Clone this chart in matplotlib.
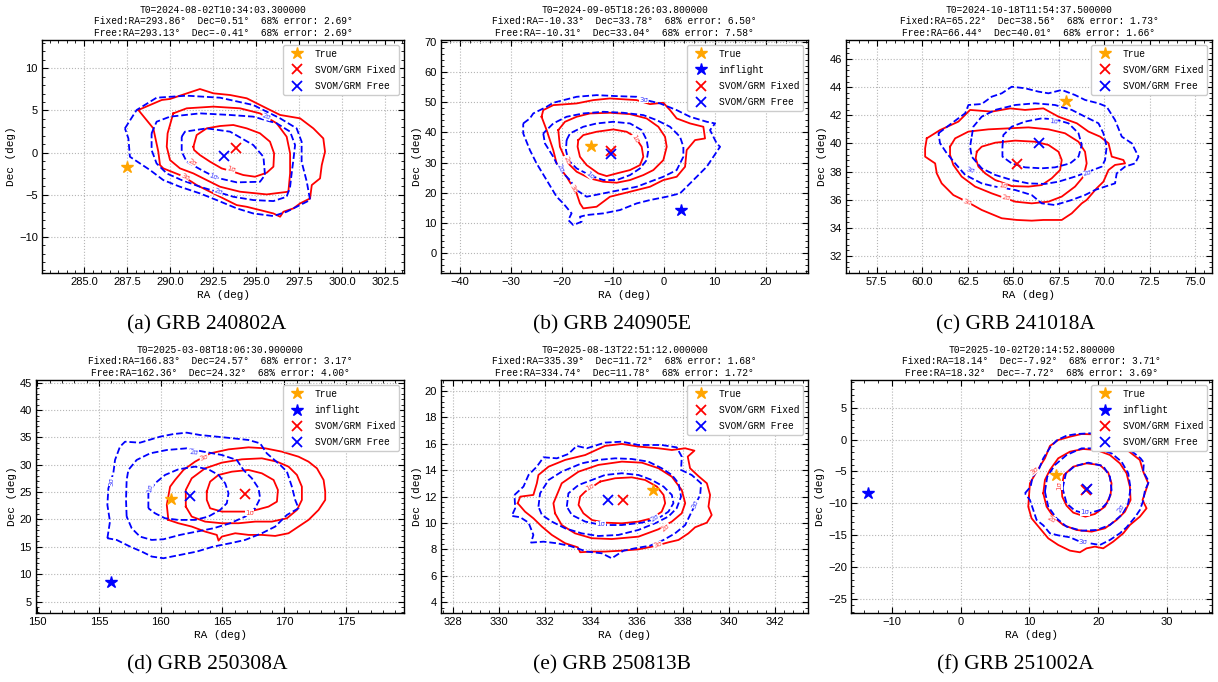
import matplotlib
matplotlib.use('Agg')
import matplotlib.pyplot as plt
from matplotlib.ticker import MultipleLocator, AutoMinorLocator

# ---------------- data ----------------
NAMES = ['(a) GRB 240802A', '(b) GRB 240905E', '(c) GRB 241018A',
         '(d) GRB 250308A', '(e) GRB 250813B', '(f) GRB 251002A']
T0 = ['2024-08-02T10:34:03.300000', '2024-09-05T18:26:03.800000',
      '2024-10-18T11:54:37.500000', '2025-03-08T18:06:30.900000',
      '2025-08-13T22:51:12.000000', '2025-10-02T20:14:52.800000']
FIX_RA = [293.86, -10.33, 65.22, 166.83, 335.39, 18.14]
FIX_DEC = [0.51, 33.78, 38.56, 24.57, 11.72, -7.92]
FIX_ERR = [2.69, 6.50, 1.73, 3.17, 1.68, 3.71]
FREE_RA = [293.13, -10.31, 66.44, 162.36, 334.74, 18.32]
FREE_DEC = [-0.41, 33.04, 40.01, 24.32, 11.78, -7.72]
FREE_ERR = [2.69, 7.58, 1.66, 4.00, 1.72, 3.69]
TRUE_RA = [287.5, -14.3, 67.9, 160.8, 336.7, 13.9]
TRUE_DEC = [-1.7, 35.5, 43.0, 23.8, 12.5, -5.5]
INFLIGHT_RA = [None, 3.3, None, 156.0, None, -13.5]
INFLIGHT_DEC = [None, 14.2, None, 8.6, None, -8.4]

# (a) GRB 240802A contours
A_FIX1_RA = [291.36, 291.55, 292.13, 292.91, 293.68, 294.46, 295.23, 295.81, 296.05, 296.01, 295.62, 294.94, 294.26, 293.68, 293.00, 292.33, 291.74, 291.40]
A_FIX1_DEC = [0.69, 2.08, 2.87, 3.15, 3.27, 2.87, 2.28, 1.29, -0.10, -1.68, -2.40, -2.87, -2.67, -2.28, -1.88, -1.09, -0.30, 0.30]
A_FIX2_RA = [290.19, 290.97, 292.52, 294.07, 295.23, 296.20, 296.78, 296.98, 296.98, 296.88, 295.62, 294.07, 292.91, 292.13, 291.36, 290.58, 290.00, 289.81, 289.86]
A_FIX2_DEC = [4.65, 5.25, 5.45, 5.25, 4.65, 3.47, 1.88, -0.10, -2.48, -4.65, -4.97, -4.65, -4.06, -3.27, -2.48, -1.88, -0.89, 0.69, 2.28]
A_FIX3_RA = [288.16, 289.52, 290.00, 291.74, 292.52, 293.49, 294.46, 295.62, 296.40, 297.56, 298.33, 298.91, 299.01, 298.82, 298.72, 298.24, 298.14, 297.56, 297.17, 296.59, 296.40, 296.01, 295.23, 294.46, 293.88, 293.29, 292.52, 291.55, 291.26, 290.58, 289.61, 289.42, 289.32, 289.03]
A_FIX3_DEC = [5.05, 6.24, 6.36, 7.54, 7.03, 6.83, 6.44, 5.25, 4.46, 4.06, 2.87, 1.68, 0.10, -1.49, -3.07, -3.86, -5.45, -6.04, -6.63, -7.03, -7.62, -7.23, -6.83, -6.44, -6.24, -5.64, -4.85, -3.86, -3.47, -2.67, -1.88, -1.49, 0.10, 2.87]
A_FREE1_RA = [290.68, 290.87, 292.13, 293.49, 294.84, 295.43, 295.52, 295.23, 293.88, 292.71, 291.94, 290.97, 290.68]
A_FREE1_DEC = [1.88, 2.48, 2.87, 2.48, 0.89, -0.50, -2.67, -3.47, -3.54, -2.99, -2.20, -1.09, 0.10]
A_FREE2_RA = [288.93, 289.22, 290.00, 291.74, 293.49, 294.84, 296.20, 296.98, 297.27, 297.17, 297.07, 296.98, 296.78, 296.01, 294.84, 293.68, 292.71, 291.74, 290.68, 289.81, 289.22, 288.93]
A_FREE2_DEC = [2.28, 3.66, 4.26, 4.65, 4.46, 4.26, 3.47, 2.48, 0.89, -0.89, -2.48, -4.06, -5.25, -5.76, -5.64, -5.25, -4.65, -4.06, -3.27, -2.48, -1.29, 0.30]
A_FREE3_RA = [287.38, 288.06, 289.22, 290.97, 292.91, 294.84, 296.40, 297.36, 297.65, 297.65, 297.95, 298.14, 296.78, 296.01, 294.84, 293.88, 292.71, 291.74, 290.58, 289.61, 288.84, 287.67, 287.58]
A_FREE3_DEC = [2.87, 5.05, 6.51, 6.75, 6.51, 5.64, 4.06, 2.87, 1.29, -1.09, -3.47, -5.64, -7.03, -7.54, -7.23, -6.63, -5.64, -4.85, -4.06, -3.27, -2.08, -0.50, 1.68]
A_LABELS = [(293.55, -2.0, '1σ', 'red', -15), (291.32, -1.17, '2σ', 'red', -30),
            (290.87, -2.87, '3σ', 'red', -25), (292.52, -2.87, '1σ', 'blue', -20),
            (292.81, -4.65, '2σ', 'blue', -20), (295.62, 4.26, '2σ', 'blue', -20)]

# (b) GRB 240905E contours
B_FIX1_RA = [-16.77, -15.79, -13.17, -9.90, -7.28, -5.64, -4.33, -4.01, -4.66, -6.62, -9.24, -11.20, -12.84, -15.13, -16.44, -16.90]
B_FIX1_DEC = [37.48, 39.13, 40.24, 41.01, 40.24, 38.58, 35.27, 31.97, 29.21, 27.56, 26.45, 25.57, 26.45, 29.21, 31.97, 35.27]
B_FIX2_RA = [-20.69, -19.38, -17.09, -14.48, -10.55, -6.62, -3.35, -1.06, 0.25, 0.58, -0.08, -2.04, -4.01, -6.62, -9.24, -11.86, -14.48, -17.09, -19.06, -20.37]
B_FIX2_DEC = [40.79, 43.54, 45.20, 46.30, 46.52, 46.08, 44.64, 41.89, 38.58, 35.27, 30.86, 27.56, 25.90, 24.25, 23.37, 23.70, 24.80, 27.01, 30.31, 35.27]
B_FIX3_RA = [-23.97, -23.64, -21.68, -17.09, -13.82, -10.55, -5.31, -2.70, -0.08, 1.23, 2.54, 5.16, 7.77, 8.10, 6.14, 4.50, 4.18, 2.54, -0.08, -2.70, -5.31, -7.93, -10.55, -13.17, -15.79, -16.44, -17.09, -19.06, -21.02, -21.68, -22.98]
B_FIX3_DEC = [45.20, 47.40, 49.05, 49.61, 50.71, 51.26, 50.71, 49.38, 49.83, 47.40, 44.64, 42.99, 41.89, 38.03, 37.48, 34.17, 28.66, 25.35, 24.25, 22.04, 20.94, 19.84, 18.74, 15.43, 14.88, 16.53, 19.84, 25.35, 29.76, 34.17, 40.79]
B_FREE1_RA = [-19.06, -18.40, -15.79, -13.17, -9.90, -6.62, -4.33, -3.35, -3.02, -3.35, -4.66, -6.62, -9.24, -11.86, -14.15, -17.09, -18.73, -19.19]
B_FREE1_DEC = [37.48, 39.68, 41.89, 42.99, 43.54, 42.99, 40.79, 37.48, 34.17, 30.86, 28.11, 25.90, 24.25, 24.25, 25.57, 28.11, 30.86, 34.17]
B_FREE2_RA = [-23.64, -23.31, -21.68, -20.37, -18.40, -17.09, -15.13, -11.86, -8.59, -5.31, -2.70, -0.08, 2.54, 3.85, 3.85, 3.19, 1.23, -1.39, -4.01, -7.93, -11.86, -15.79, -19.06, -21.68]
B_FREE2_DEC = [39.68, 36.38, 31.97, 27.56, 24.25, 20.94, 18.74, 19.84, 20.94, 22.04, 23.70, 25.35, 27.56, 31.97, 35.27, 38.58, 41.89, 44.09, 45.75, 46.52, 46.85, 46.30, 45.20, 42.99]
B_FREE3_RA = [-27.57, -26.26, -25.60, -22.98, -21.68, -17.09, -13.17, -9.24, -5.31, -4.01, -0.73, 2.54, 5.16, 8.43, 10.07, 9.08, 10.39, 11.05, 9.74, 8.43, 6.47, 4.50, 3.19, 0.58, -2.70, -5.31, -8.59, -11.86, -15.13, -16.44, -16.11, -17.75, -18.73, -18.08, -19.71, -21.02, -22.98, -24.95, -26.26, -27.57]
B_FREE3_DEC = [42.99, 44.64, 46.30, 48.50, 49.83, 51.81, 52.36, 52.03, 51.81, 50.93, 49.61, 47.40, 45.20, 43.54, 42.99, 40.79, 36.38, 35.27, 31.97, 28.66, 25.35, 22.04, 19.84, 18.74, 17.64, 16.53, 14.33, 13.23, 12.68, 12.12, 10.47, 9.37, 11.02, 13.23, 16.53, 18.74, 24.25, 29.76, 34.17, 39.68]
B_LABELS = [(-5.64, 38.0, '1σ', 'red', -60), (-19.06, 30.86, '2σ', 'red', -70),
            (-17.75, 21.5, '3σ', 'red', -60), (-14.48, 25.9, '1σ', 'blue', -40),
            (-20.37, 28.1, '2σ', 'blue', -65), (-4.0, 50.9, '3σ', 'blue', 0)]

# (c) GRB 241018A contours
C_FIX1_RA = [63.00, 63.27, 64.01, 65.11, 66.20, 66.94, 67.49, 67.67, 67.58, 67.12, 66.57, 65.84, 64.92, 64.01, 63.46, 63.09, 62.94]
C_FIX1_DEC = [39.41, 39.77, 40.05, 40.20, 40.12, 39.89, 39.41, 38.82, 38.11, 37.52, 37.04, 36.93, 36.97, 37.40, 37.87, 38.35, 38.94]
C_FIX2_RA = [61.53, 61.81, 62.54, 63.64, 64.74, 65.84, 66.94, 67.85, 68.59, 68.95, 69.04, 68.86, 68.40, 67.67, 66.94, 66.02, 65.11, 63.82, 62.91, 62.17, 61.71, 61.53]
C_FIX2_DEC = [39.77, 40.36, 40.84, 41.00, 41.07, 41.14, 41.00, 40.72, 40.12, 39.41, 38.58, 37.64, 36.93, 36.22, 35.86, 35.74, 35.86, 36.45, 36.93, 37.64, 38.47, 39.18]
C_FIX3_RA = [60.25, 60.98, 61.99, 62.63, 63.82, 64.83, 65.65, 66.66, 67.49, 68.50, 69.14, 69.78, 70.24, 70.42, 71.06, 71.15, 70.60, 70.24, 69.96, 69.59, 69.04, 68.77, 68.22, 67.67, 66.66, 66.02, 65.20, 64.37, 63.27, 62.45, 61.71, 61.07, 60.80, 60.71, 60.16, 60.16]
C_FIX3_DEC = [40.36, 40.95, 41.55, 42.38, 42.26, 42.49, 42.38, 42.49, 41.90, 41.43, 40.84, 40.48, 40.01, 39.06, 38.82, 38.58, 38.47, 38.11, 37.28, 36.81, 35.98, 35.74, 35.03, 34.56, 34.56, 34.51, 34.56, 34.68, 35.27, 35.86, 36.33, 37.16, 37.87, 38.58, 39.06, 39.65]
C_FREE1_RA = [64.41, 64.46, 64.92, 65.65, 66.57, 67.30, 68.04, 68.59, 68.77, 68.59, 68.13, 67.30, 66.57, 65.65, 64.92, 64.41]
C_FREE1_DEC = [39.77, 40.60, 41.19, 41.55, 41.78, 41.71, 41.43, 40.72, 39.89, 39.06, 38.58, 38.30, 38.23, 38.30, 38.58, 39.06]
C_FREE2_RA = [62.72, 62.81, 63.27, 64.01, 65.11, 66.20, 67.30, 68.22, 68.95, 69.69, 69.96, 70.14, 70.05, 69.87, 69.14, 68.40, 67.49, 66.75, 65.84, 64.92, 64.01, 63.27, 62.72, 62.63]
C_FREE2_DEC = [40.48, 41.19, 41.90, 42.38, 42.73, 42.85, 42.73, 42.38, 41.90, 41.43, 40.72, 39.77, 38.82, 38.35, 37.99, 37.64, 37.28, 37.12, 37.16, 37.40, 37.76, 38.23, 39.06, 39.77]
C_FREE3_RA = [60.89, 61.62, 62.36, 62.54, 63.27, 63.82, 64.37, 64.92, 65.65, 66.39, 66.94, 67.67, 68.40, 68.95, 69.69, 70.14, 70.60, 70.97, 71.52, 71.89, 71.70, 71.15, 70.69, 70.60, 70.05, 69.50, 68.95, 68.22, 67.30, 66.57, 66.02, 65.11, 64.01, 63.27, 62.36, 61.81, 61.35, 60.98]
C_FREE3_DEC = [40.72, 41.43, 42.14, 42.73, 42.80, 43.32, 43.56, 44.03, 43.92, 43.68, 43.56, 43.80, 43.44, 43.09, 42.85, 42.61, 41.66, 40.48, 40.01, 39.06, 38.58, 38.35, 37.87, 37.16, 36.93, 36.69, 36.33, 35.98, 35.62, 35.74, 36.33, 36.69, 36.93, 37.16, 37.76, 38.58, 39.30, 40.01]
C_LABELS = [(64.41, 36.97, '1σ', 'red', -10), (64.59, 36.10, '2σ', 'red', -10),
            (62.45, 35.81, '3σ', 'red', -15), (67.21, 41.59, '1σ', 'blue', -5),
            (69.05, 37.87, '2σ', 'blue', 15), (62.63, 38.11, '3σ', 'blue', -15)]

# (d) GRB 250308A contours
D_FIX1_RA = [163.73, 164.00, 164.68, 165.76, 167.11, 168.19, 169.14, 169.49, 169.41, 168.73, 167.92, 167.11, 166.03, 164.95, 164.00, 163.73]
D_FIX1_DEC = [25.09, 26.92, 28.14, 28.74, 29.05, 28.44, 27.22, 25.40, 23.26, 22.35, 21.86, 21.44, 21.44, 21.44, 22.05, 23.57]
D_FIX2_RA = [162.03, 162.03, 162.51, 163.59, 164.95, 166.57, 168.19, 169.41, 170.35, 171.03, 171.43, 171.43, 171.03, 170.22, 169.00, 167.65, 166.30, 164.95, 163.59, 162.51]
D_FIX2_DEC = [22.35, 25.40, 27.53, 29.35, 30.39, 31.00, 31.18, 30.57, 29.66, 28.14, 26.00, 23.57, 21.74, 20.22, 19.61, 19.61, 19.31, 19.31, 19.61, 20.53]
D_FIX3_RA = [160.62, 160.49, 160.76, 161.16, 161.84, 162.78, 164.00, 165.49, 167.11, 168.46, 169.81, 171.16, 171.97, 172.65, 173.19, 173.32, 173.32, 172.78, 171.97, 171.16, 170.35, 169.27, 168.19, 167.11, 166.03, 164.95, 164.68, 164.54, 163.59, 162.51, 161.43]
D_FIX3_DEC = [19.92, 22.66, 26.00, 27.22, 29.05, 30.57, 32.09, 32.82, 33.19, 33.01, 32.40, 31.48, 30.57, 29.35, 27.22, 25.09, 23.57, 21.74, 19.92, 18.70, 17.48, 16.99, 17.18, 17.18, 17.48, 16.87, 16.14, 17.18, 17.79, 18.70, 19.31]
D_FREE1_RA = [159.00, 159.00, 159.54, 160.35, 161.43, 162.78, 163.86, 164.68, 165.22, 165.49, 165.35, 164.81, 163.86, 162.78, 161.43, 160.35, 159.54]
D_FREE1_DEC = [22.05, 24.79, 26.61, 28.14, 29.17, 29.66, 29.17, 28.14, 26.61, 24.79, 22.96, 21.74, 20.53, 19.92, 19.92, 20.22, 21.13]
D_FREE2_RA = [157.24, 157.19, 157.24, 157.38, 158.05, 159.14, 160.49, 162.11, 163.46, 164.95, 166.16, 166.70, 167.38, 167.92, 168.05, 167.65, 166.84, 165.62, 164.27, 162.92, 161.57, 160.22, 159.27, 158.32, 157.65]
D_FREE2_DEC = [20.53, 23.57, 27.22, 29.05, 30.88, 32.09, 32.70, 33.01, 32.40, 31.79, 30.88, 29.05, 27.53, 25.70, 23.87, 22.05, 20.53, 19.31, 18.39, 17.79, 17.18, 16.38, 16.26, 16.87, 18.39]
D_FREE3_RA = [155.68, 155.89, 155.68, 155.76, 156.16, 156.30, 156.70, 157.11, 158.32, 159.95, 161.03, 162.11, 163.19, 164.54, 165.89, 167.11, 168.05, 168.59, 169.68, 170.22, 170.62, 170.89, 171.16, 170.22, 169.27, 168.19, 166.84, 165.62, 164.27, 162.92, 161.57, 160.22, 159.27, 158.46, 157.51, 156.43]
D_FREE3_DEC = [16.57, 19.61, 22.66, 25.70, 28.44, 30.88, 33.31, 34.22, 34.04, 35.14, 35.62, 35.87, 35.44, 35.14, 34.83, 34.53, 33.92, 32.09, 29.96, 28.74, 26.00, 23.57, 22.05, 20.83, 18.70, 17.48, 16.26, 15.65, 15.05, 14.13, 13.52, 12.91, 13.22, 14.13, 15.05, 16.26]
D_LABELS = [(167.19, 21.26, '1σ', 'red', 0), (163.51, 31.36, '3σ', 'red', 20),
            (159.14, 25.70, '1σ', 'blue', 80), (162.70, 32.34, '2σ', 'blue', -5),
            (156.03, 26.92, '3σ', 'blue', 90)]

# (e) GRB 250813B contours
E_FIX1_RA = [334.41, 335.06, 335.78, 336.36, 336.87, 337.16, 337.23, 337.08, 336.65, 336.07, 335.35, 334.62, 334.05, 333.68, 333.47, 333.54, 333.76]
E_FIX1_DEC = [13.14, 13.39, 13.46, 13.26, 12.76, 12.13, 11.50, 10.86, 10.36, 10.11, 9.98, 10.03, 10.23, 10.74, 11.37, 12.00, 12.38]
E_FIX2_RA = [332.45, 332.38, 332.74, 333.47, 334.33, 335.35, 336.22, 336.94, 337.52, 337.95, 338.10, 337.95, 337.52, 336.94, 336.07, 334.91, 334.05, 333.32, 332.74]
E_FIX2_DEC = [10.74, 11.50, 13.01, 13.89, 14.40, 14.65, 14.57, 14.15, 13.51, 12.50, 11.50, 10.74, 10.11, 9.53, 8.97, 8.79, 8.85, 9.22, 9.85]
E_FIX3_RA = [330.83, 330.94, 331.51, 331.66, 331.73, 332.17, 332.89, 333.76, 334.62, 335.35, 336.07, 336.94, 337.52, 338.10, 338.50, 338.21, 338.31, 338.67, 339.04, 339.18, 339.11, 339.25, 339.04, 338.53, 338.24, 337.81, 337.37, 336.79, 336.07, 335.35, 334.62, 334.05, 333.54, 333.44, 332.89, 332.31, 331.88, 331.51, 331.15]
E_FIX3_DEC = [11.50, 12.00, 12.13, 13.01, 13.64, 14.27, 14.78, 15.15, 15.84, 15.99, 15.79, 15.66, 15.53, 15.66, 15.48, 15.03, 14.15, 13.56, 13.01, 12.13, 11.24, 10.61, 10.03, 9.68, 9.22, 8.72, 8.54, 8.26, 8.01, 7.91, 7.84, 7.84, 7.79, 8.16, 8.47, 9.10, 9.73, 10.36, 10.86]
E_FREE1_RA = [332.96, 333.03, 333.47, 334.05, 334.62, 335.35, 336.07, 336.65, 337.16, 337.52, 337.59, 337.37, 336.94, 336.22, 335.35, 334.48, 333.76, 333.18]
E_FREE1_DEC = [11.24, 12.25, 12.88, 13.26, 13.64, 13.77, 13.64, 13.26, 12.76, 12.13, 11.50, 10.86, 10.36, 10.03, 9.85, 9.85, 10.11, 10.61]
E_FREE2_RA = [331.73, 331.80, 332.17, 332.74, 333.61, 334.33, 335.06, 335.78, 336.50, 337.08, 337.52, 337.81, 337.92, 337.73, 337.37, 336.79, 336.07, 335.20, 334.33, 333.61, 332.89, 332.31, 331.88]
E_FREE2_DEC = [11.24, 12.25, 13.26, 13.89, 14.52, 14.78, 14.90, 14.85, 14.65, 14.15, 13.64, 13.01, 12.00, 11.12, 10.49, 9.98, 9.48, 9.10, 9.02, 9.22, 9.60, 10.11, 10.61]
E_FREE3_RA = [330.69, 331.08, 331.30, 331.66, 331.95, 332.53, 333.03, 333.39, 333.83, 334.62, 335.35, 336.07, 337.08, 337.73, 337.95, 337.92, 338.38, 338.79, 338.75, 338.53, 338.31, 338.10, 337.66, 337.16, 336.58, 335.93, 335.42, 334.91, 334.48, 333.83, 333.11, 332.53, 331.95, 331.41, 331.51, 331.30, 330.94, 330.57, 330.72]
E_FREE3_DEC = [12.13, 12.76, 13.64, 14.27, 14.98, 14.90, 15.23, 15.84, 15.66, 16.09, 16.16, 15.91, 15.91, 15.73, 15.03, 14.02, 13.64, 13.01, 12.13, 11.37, 10.61, 9.85, 9.22, 8.72, 8.29, 8.09, 7.91, 7.33, 7.71, 7.84, 8.26, 8.47, 8.59, 8.52, 9.10, 10.03, 10.44, 10.54, 11.12]
E_LABELS = [(333.97, 12.71, '1σ', 'red', 30), (337.26, 9.68, '2σ', 'red', 40),
            (336.91, 8.34, '3σ', 'red', 20), (334.45, 9.91, '1σ', 'blue', 0),
            (336.79, 10.36, '2σ', 'blue', 35), (338.53, 11.44, '3σ', 'blue', 70)]

# (f) GRB 251002A contours
F_FIX1_RA = [14.67, 15.01, 16.36, 18.29, 20.23, 21.44, 21.92, 21.78, 20.96, 19.50, 18.11, 16.36, 15.39, 14.76]
F_FIX1_DEC = [-7.39, -5.56, -4.25, -3.73, -3.99, -5.19, -6.86, -8.69, -10.52, -11.67, -12.09, -11.46, -10.37, -8.95]
F_FIX2_RA = [12.01, 12.25, 12.97, 14.18, 15.88, 17.81, 19.75, 21.68, 23.13, 24.10, 24.58, 24.68, 23.86, 22.65, 20.96, 19.02, 16.84, 14.91, 13.46, 12.49]
F_FIX2_DEC = [-8.43, -6.34, -4.77, -2.94, -1.90, -1.48, -1.64, -2.42, -3.73, -5.30, -7.39, -9.48, -11.31, -12.61, -13.92, -14.44, -14.18, -13.40, -12.09, -10.52]
F_FIX3_RA = [9.93, 10.07, 11.04, 12.25, 12.97, 14.18, 15.88, 17.57, 19.26, 21.20, 23.13, 24.49, 26.03, 26.52, 27.24, 26.76, 26.42, 27.00, 26.03, 24.58, 23.62, 22.16, 20.71, 19.50, 18.29, 17.33, 15.88, 14.18, 12.73, 11.52, 10.31, 9.83]
F_FIX3_DEC = [-8.95, -6.86, -5.03, -2.94, -1.01, -0.07, 0.45, 0.87, 0.82, 0.45, -0.33, -1.90, -3.21, -5.03, -6.86, -8.43, -9.48, -10.78, -12.09, -13.40, -14.70, -16.01, -17.06, -16.79, -17.06, -17.68, -17.42, -16.53, -15.49, -13.92, -12.35, -10.52]
F_FREE1_RA = [14.81, 15.30, 16.60, 18.54, 20.71, 21.68, 21.92, 21.44, 20.23, 18.29, 16.60, 15.39]
F_FREE1_DEC = [-7.65, -5.30, -4.15, -3.62, -4.15, -5.82, -7.91, -9.74, -11.05, -11.67, -11.15, -10.00]
F_FREE2_RA = [12.25, 12.59, 13.70, 15.39, 17.57, 19.75, 21.92, 23.37, 24.34, 24.68, 24.34, 23.37, 21.68, 19.75, 17.57, 15.39, 13.94, 12.73]
F_FREE2_DEC = [-8.17, -5.82, -3.99, -2.42, -1.38, -1.38, -2.16, -3.47, -5.30, -7.65, -10.00, -11.83, -13.40, -14.18, -14.29, -13.66, -12.35, -10.52]
F_FREE3_RA = [9.35, 10.17, 10.46, 11.43, 12.01, 13.07, 14.04, 15.39, 16.84, 18.78, 20.71, 22.89, 24.49, 26.13, 26.61, 26.52, 27.34, 26.76, 26.52, 26.03, 25.31, 24.10, 23.13, 21.68, 20.23, 18.78, 17.33, 15.88, 14.18, 12.97, 12.01, 11.04, 10.56, 10.07]
F_FREE3_DEC = [-8.43, -7.39, -5.82, -4.51, -2.94, -1.12, -0.07, 0.61, 0.87, 0.98, 0.61, -0.07, -1.53, -2.94, -3.62, -5.03, -6.60, -8.01, -9.58, -11.05, -12.20, -13.76, -14.70, -15.75, -16.53, -16.27, -16.01, -15.33, -15.02, -14.70, -13.45, -12.61, -11.05, -9.48]
F_LABELS = [(10.70, -4.93, '3σ', 'red', 40), (14.33, -7.23, '1σ', 'red', 90),
            (13.22, -12.46, '2σ', 'red', -30), (18.05, -11.41, '1σ', 'blue', 0),
            (23.28, -10.78, '2σ', 'blue', 60), (17.81, -16.01, '3σ', 'blue', 0)]

# ---------------- layout ----------------
W, H = 1218, 682
PANELS = [
    dict(box=(42, 40, 404, 273), xlim=(282.56, 303.6), ylim=(-14.3, 13.36), xmaj=2.5, ymaj=5,
         fix=[(A_FIX1_RA, A_FIX1_DEC), (A_FIX2_RA, A_FIX2_DEC), (A_FIX3_RA, A_FIX3_DEC)],
         free=[(A_FREE1_RA, A_FREE1_DEC), (A_FREE2_RA, A_FREE2_DEC), (A_FREE3_RA, A_FREE3_DEC)],
         labels=A_LABELS, cap=(207, 325)),
    dict(box=(441, 40, 808, 273), xlim=(-43.7, 28.3), ylim=(-6.5, 70.6), xmaj=10, ymaj=10,
         fix=[(B_FIX1_RA, B_FIX1_DEC), (B_FIX2_RA, B_FIX2_DEC), (B_FIX3_RA, B_FIX3_DEC)],
         free=[(B_FREE1_RA, B_FREE1_DEC), (B_FREE2_RA, B_FREE2_DEC), (B_FREE3_RA, B_FREE3_DEC)],
         labels=B_LABELS, cap=(612, 325)),
    dict(box=(846, 40, 1212, 273), xlim=(55.81, 75.93), ylim=(30.79, 47.35), xmaj=2.5, ymaj=2,
         fix=[(C_FIX1_RA, C_FIX1_DEC), (C_FIX2_RA, C_FIX2_DEC), (C_FIX3_RA, C_FIX3_DEC)],
         free=[(C_FREE1_RA, C_FREE1_DEC), (C_FREE2_RA, C_FREE2_DEC), (C_FREE3_RA, C_FREE3_DEC)],
         labels=C_LABELS, cap=(1015, 325)),
    dict(box=(36, 380, 404, 613), xlim=(149.9, 179.7), ylim=(2.9, 45.5), xmaj=5, ymaj=5,
         fix=[(D_FIX1_RA, D_FIX1_DEC), (D_FIX2_RA, D_FIX2_DEC), (D_FIX3_RA, D_FIX3_DEC)],
         free=[(D_FREE1_RA, D_FREE1_DEC), (D_FREE2_RA, D_FREE2_DEC), (D_FREE3_RA, D_FREE3_DEC)],
         labels=D_LABELS, cap=(207, 665)),
    dict(box=(441, 380, 808, 613), xlim=(327.5, 343.43), ylim=(3.19, 20.83), xmaj=2, ymaj=2,
         fix=[(E_FIX1_RA, E_FIX1_DEC), (E_FIX2_RA, E_FIX2_DEC), (E_FIX3_RA, E_FIX3_DEC)],
         free=[(E_FREE1_RA, E_FREE1_DEC), (E_FREE2_RA, E_FREE2_DEC), (E_FREE3_RA, E_FREE3_DEC)],
         labels=E_LABELS, cap=(612, 665)),
    dict(box=(851, 380, 1212, 613), xlim=(-15.9, 36.5), ylim=(-27.2, 9.34), xmaj=10, ymaj=5,
         fix=[(F_FIX1_RA, F_FIX1_DEC), (F_FIX2_RA, F_FIX2_DEC), (F_FIX3_RA, F_FIX3_DEC)],
         free=[(F_FREE1_RA, F_FREE1_DEC), (F_FREE2_RA, F_FREE2_DEC), (F_FREE3_RA, F_FREE3_DEC)],
         labels=F_LABELS, cap=(1015, 665)),
]

MONO = ['Liberation Mono', 'DejaVu Sans Mono']
plt.rcParams['font.family'] = MONO


def closed(v):
    return list(v) + [v[0]]


fig = plt.figure(figsize=(W / 100, H / 100), dpi=100)

for i, p in enumerate(PANELS):
    l, t, r, b = p['box']
    ax = fig.add_axes([l / W, 1 - b / H, (r - l) / W, (b - t) / H])

    for ra, dec in p['fix']:
        ax.plot(closed(ra), closed(dec), color='red', lw=1.3, zorder=2)
    for ra, dec in p['free']:
        ax.plot(closed(ra), closed(dec), color='blue', lw=1.3, ls='--', zorder=2)
    for x, y, txt, col, rot in p['labels']:
        ax.text(x, y, txt, color=col, fontsize=5, rotation=rot, ha='center', va='center',
                family=['DejaVu Sans'], alpha=0.75, zorder=3,
                bbox=dict(fc='white', ec='none', pad=0.2))

    ax.plot(TRUE_RA[i], TRUE_DEC[i], ls='none', marker='*', color='orange', ms=9, label='True', zorder=5)
    if INFLIGHT_RA[i] is not None:
        ax.plot(INFLIGHT_RA[i], INFLIGHT_DEC[i], ls='none', marker='*', color='blue', ms=9,
                label='inflight', zorder=5)
    ax.plot(FIX_RA[i], FIX_DEC[i], ls='none', marker='x', color='red', ms=7, mew=1.3,
            label='SVOM/GRM Fixed', zorder=5)
    ax.plot(FREE_RA[i], FREE_DEC[i], ls='none', marker='x', color='blue', ms=7, mew=1.3,
            label='SVOM/GRM Free', zorder=5)

    ax.set_xlim(*p['xlim'])
    ax.set_ylim(*p['ylim'])
    ax.xaxis.set_major_locator(MultipleLocator(p['xmaj']))
    ax.yaxis.set_major_locator(MultipleLocator(p['ymaj']))
    ax.xaxis.set_minor_locator(AutoMinorLocator(5))
    ax.yaxis.set_minor_locator(AutoMinorLocator(5))
    ax.tick_params(which='both', direction='in', top=True, right=True,
                   labelsize=8, labelfontfamily='Liberation Sans', pad=3)
    ax.tick_params(which='major', length=4, width=0.8)
    ax.tick_params(which='minor', length=2, width=0.6)
    ax.grid(True, which='major', color='#b5b5b5', ls=':', lw=0.8)
    ax.set_axisbelow(True)
    for s in ax.spines.values():
        s.set_linewidth(1.0)

    ax.set_xlabel('RA (deg)', fontsize=8, labelpad=2)
    ax.set_ylabel('Dec (deg)', fontsize=8, labelpad=2)

    title = (f'T0={T0[i]}\n'
             f'Fixed:RA={FIX_RA[i]:.2f}°  Dec={FIX_DEC[i]:.2f}°  68% error: {FIX_ERR[i]:.2f}°\n'
             f'Free:RA={FREE_RA[i]:.2f}°  Dec={FREE_DEC[i]:.2f}°  68% error: {FREE_ERR[i]:.2f}°')
    ax.set_title(title, fontsize=6.9, pad=3, linespacing=1.2)

    leg = ax.legend(loc='upper right', fontsize=6.9, framealpha=1, edgecolor='#cccccc',
                    borderaxespad=0.5, handletextpad=0.9, labelspacing=0.65)
    leg.set_zorder(10)

    cx, cy = p['cap']
    fig.text(cx / W, 1 - cy / H, NAMES[i], family='Liberation Serif', fontsize=15.5,
             ha='center', va='center')

fig.savefig('out.png', dpi=100)
